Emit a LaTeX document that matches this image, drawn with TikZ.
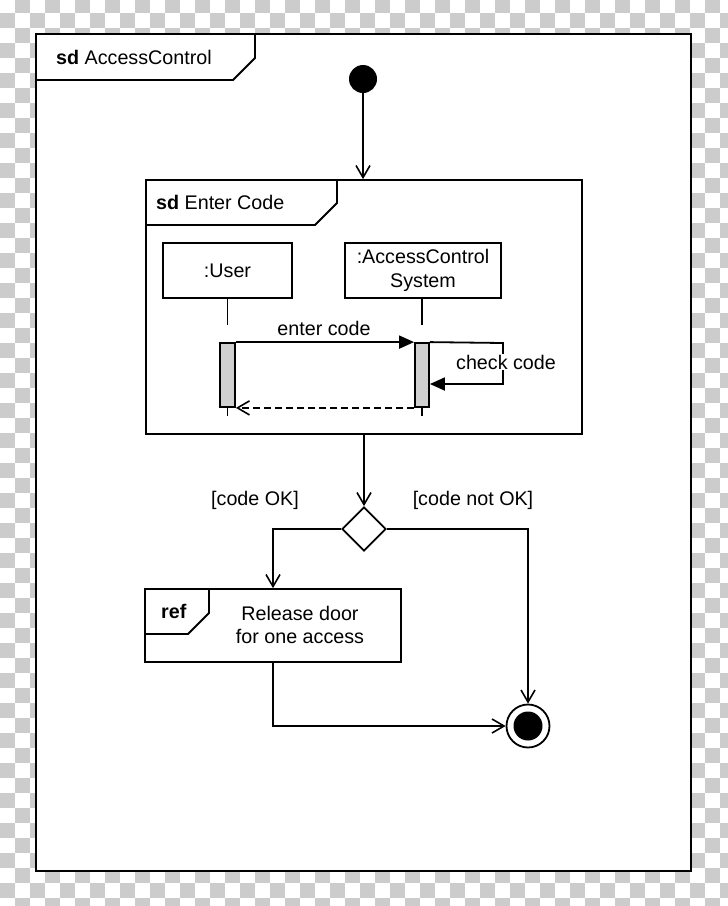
\documentclass[tikz,border=0pt]{standalone}
\usepackage{fontspec}
\setmainfont{Liberation Sans}
\usetikzlibrary{arrows.meta,shapes.geometric}
\definecolor{checkgray}{RGB}{204,204,204}
\definecolor{actgray}{RGB}{208,208,208}
\begin{document}
\begin{tikzpicture}[x=1pt,y=-1pt,
  every node/.style={font=\fontsize{19.7}{23.5}\selectfont, text=black},
  ln/.style={line width=1.8pt},
  box/.style={draw, line width=1.8pt, rectangle, inner sep=0pt, fill=white},
  openarrow/.style={-{Straight Barb[length=12pt,width=14pt,line width=1.6pt]}},
  fillarrow/.style={-{Triangle[length=15pt,width=13pt]}},
  retline/.style={line width=1.6pt, dash pattern=on 7pt off 4pt},
  lbl/.style={inner sep=1pt}
]
\useasboundingbox (0,0) rectangle (728,906);
% checker background
\foreach \i in {0,...,48}{
  \foreach \j in {0,...,60}{
    \pgfmathtruncatemacro\pp{mod(\i+\j,2)}
    \ifnum\pp=1
      \fill[checkgray] (15*\i,15*\j-2) rectangle ++(15,15);
    \fi
  }
}
% outer frame
\node[box, minimum width=655pt, minimum height=837pt] (main) at (363.5,452.5) {};
\draw[ln] (36,80) -- (233,80) -- (255,58) -- (255,34);
\node[anchor=west, lbl] (t1) at (55,57) {\textbf{sd} AccessControl};
% initial node
\node[circle, fill=black, minimum size=28pt, inner sep=0pt] (init) at (363,79) {};
% Enter Code frame
\node[box, minimum width=436pt, minimum height=254pt] (ec) at (364,307) {};
\draw[ln] (146,225) -- (315,225) -- (337,203) -- (337,180);
\node[anchor=west, lbl] (t2) at (155,202) {\textbf{sd} Enter Code};
\draw[ln, openarrow] (init) -- (init |- ec.north);
% lifelines
\node[box, minimum width=129pt, minimum height=55pt] (user) at (227.5,270.5) {:User};
\node[box, minimum width=156pt, minimum height=55pt, align=center] (acs) at (423,270.5) {:AccessControl\\System};
\node[box, fill=actgray, minimum width=15pt, minimum height=64pt] (ua) at (227.5,375) {};
\node[box, fill=actgray, minimum width=14pt, minimum height=64pt] (sa) at (422,375) {};
\coordinate (ul1) at (227.5,325);
\coordinate (sl1) at (422,325);
\draw[line width=1.6pt] (user.south) -- (ul1);
\draw[line width=1.6pt] (sa |- acs.south) -- (sl1);
\draw[line width=1.6pt] (ua.south) -- ++(0,8);
\draw[line width=1.6pt] (sa.south) -- ++(0,8);
% messages
\draw[ln, fillarrow] (ua.north east) -- (sa.north west);
\node[lbl] (m1) at (324,328) {enter code};
\coordinate (s1) at (503,343);
\coordinate (s2) at (503,384);
\draw[ln, fillarrow] (sa.north east) -- (s1) -- (s2) -- (sa.east |- s2);
\node[fill=white, lbl] (m2) at (506,362) {check code};
\draw[retline, openarrow] (sa.south west) -- (ua.south east);
% decision
\node[diamond, draw, line width=1.8pt, fill=white, minimum width=44pt, minimum height=44pt, inner sep=0pt, aspect=1] (dec) at (364,529) {};
\draw[ln, openarrow] (ec.south -| dec) -- (dec.north);
\node[lbl] (g1) at (255,500) {[code OK]};
\node[lbl] (g2) at (473,500) {[code not OK]};
% release box
\node[box, minimum width=256pt, minimum height=73pt] (rel) at (273,625.5) {};
\draw[ln] (145,634) -- (188,634) -- (209,613) -- (209,589);
\node[anchor=west, lbl] (t3) at (160,611) {\textbf{ref}};
\node[align=center, lbl] (rt) at (300,625) {Release door\\for one access};
% final node
\node[circle, draw, line width=1.8pt, fill=white, minimum size=43pt, inner sep=0pt] (fin) at (528,726) {};
\fill[black] (fin.center) circle (14.5pt);
% flows
\draw[ln, openarrow] (dec.west) -| (rel.north);
\draw[ln, openarrow] (dec.east) -| (fin.north);
\draw[ln, openarrow] (rel.south) |- (fin.west);
\end{tikzpicture}
\end{document}
